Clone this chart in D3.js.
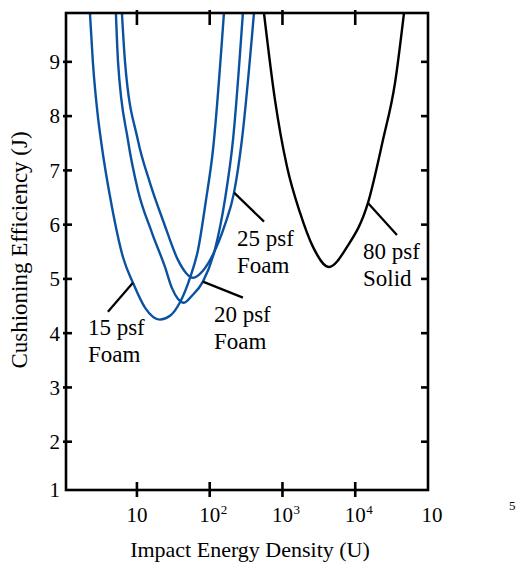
<!DOCTYPE html>
<html>
<head>
<meta charset="utf-8">
<script src="https://cdn.jsdelivr.net/npm/d3@7"></script>
<style>
  body { margin: 0; background: #fff; }
  svg text { font-family: "Liberation Serif", "Tinos", "Times New Roman", "Nimbus Roman", "DejaVu Serif", "Noto Serif", serif; fill: #000; }
</style>
</head>
<body>
<svg id="chart" width="516" height="562"></svg>
<script>
// tick values
var xTicks = [10, 100, 1000, 10000];
var xTickExp = ["", "2", "3", "4"];
var yTicks = [2, 3, 4, 5, 6, 7, 8, 9];

// curves: [impact energy density U, cushioning efficiency J]
var foam15 = [[2.26, 9.90], [2.48, 9.0], [2.91, 7.99], [3.20, 7.56], [4.53, 6.33], [6.50, 5.38],
  [8.81, 4.93], [12.9, 4.47], [20.7, 4.25], [28.5, 4.32], [39.1, 4.57], [53.6, 5.02],
  [69.0, 5.53], [88.9, 6.45], [111, 7.38], [157, 9.90]];
var foam20 = [[5.14, 9.90], [5.50, 9.0], [7.52, 7.56], [10.3, 6.64], [16.1, 5.85], [24.3, 5.22],
  [30.3, 4.83], [36.7, 4.63], [44.3, 4.56], [57.0, 4.69], [80.7, 4.95], [118, 5.54], [162, 6.46],
  [209, 7.56], [286, 9.90]];
var foam25 = [[6.22, 9.90], [6.86, 9.0], [10.3, 7.56], [15.1, 6.77], [23.5, 6.03], [36.6, 5.35],
  [47.2, 5.11], [58.9, 5.02], [80.7, 5.15], [111, 5.45], [162, 6.00], [216, 6.59], [277, 7.56],
  [406, 9.90]];
var solid80 = [[557, 9.90], [789, 8.30], [1153, 7.07], [1742, 6.22], [2626, 5.59], [4355, 5.22],
  [7709, 5.59], [14960, 6.40], [24040, 7.56], [35200, 8.61], [46770, 9.90]];

var labelText = [["15 psf", "Foam"], ["20 psf", "Foam"], ["25 psf", "Foam"], ["80 psf", "Solid"]];

var svg = d3.select("#chart");
var pLeft = 66, pRight = 428, pTop = 13, pBottom = 490;

var x = d3.scaleLog().domain([1.06, 1e5]).range([pLeft, pRight]);
var y = d3.scaleLinear().domain([1.11, 9.90]).range([pBottom, pTop]);

svg.append("defs").append("clipPath").attr("id", "plotclip")
  .append("rect").attr("x", pLeft).attr("y", pTop)
  .attr("width", pRight - pLeft).attr("height", pBottom - pTop);

// every curve is single valued in U, so a monotone-x spline keeps it smooth
var line = d3.line()
  .x(function (d) { return x(d[0]); })
  .y(function (d) { return y(d[1]); })
  .curve(d3.curveMonotoneX);

var curves = [
  { data: foam15, color: "#0a52a0" },
  { data: foam20, color: "#0a52a0" },
  { data: foam25, color: "#0a52a0" },
  { data: solid80, color: "#000" }
];

svg.append("g").attr("clip-path", "url(#plotclip)")
  .selectAll("path").data(curves).enter().append("path")
  .attr("d", function (d) { return line(d.data); })
  .attr("fill", "none")
  .attr("stroke", function (d) { return d.color; })
  .attr("stroke-width", 2.4);

// frame
svg.append("rect")
  .attr("x", pLeft).attr("y", pTop)
  .attr("width", pRight - pLeft).attr("height", pBottom - pTop)
  .attr("fill", "none").attr("stroke", "#000").attr("stroke-width", 2.6);

// x ticks, bottom and top; y ticks, left and right
var tk = svg.append("g").attr("stroke", "#000").attr("stroke-width", 2.6);
xTicks.forEach(function (t) {
  tk.append("line").attr("x1", x(t)).attr("x2", x(t)).attr("y1", pBottom - 8).attr("y2", pBottom + 7);
  tk.append("line").attr("x1", x(t)).attr("x2", x(t)).attr("y1", pTop - 3).attr("y2", pTop + 12);
});
yTicks.forEach(function (t) {
  tk.append("line").attr("x1", pLeft - 3).attr("x2", pLeft + 6).attr("y1", y(t)).attr("y2", y(t));
  tk.append("line").attr("x1", pRight - 7).attr("x2", pRight).attr("y1", y(t)).attr("y2", y(t));
});

// x tick labels
xTicks.forEach(function (t, i) {
  svg.append("text").attr("x", x(t)).attr("y", 522)
    .attr("text-anchor", "middle").style("font-size", "21px").text("10");
  if (xTickExp[i]) {
    svg.append("text").attr("x", x(t) + 11).attr("y", 514)
      .style("font-size", "13px").text(xTickExp[i]);
  }
});
// the last label, with its exponent drifted off to the right
svg.append("text").attr("x", x(1e5) + 4).attr("y", 522)
  .attr("text-anchor", "middle").style("font-size", "21px").text("10");
svg.append("text").attr("x", 509).attr("y", 510)
  .style("font-size", "13px").text("5");

// y tick labels
yTicks.forEach(function (t) {
  svg.append("text").attr("x", 60).attr("y", y(t)).attr("dy", "0.35em")
    .attr("text-anchor", "end").style("font-size", "21px").text(t);
});
svg.append("text").attr("x", 60).attr("y", pBottom).attr("dy", "0.35em")
  .attr("text-anchor", "end").style("font-size", "21px").text("1");

// axis titles
svg.append("text").attr("x", 250).attr("y", 557)
  .attr("text-anchor", "middle").style("font-size", "22px")
  .text("Impact Energy Density (U)");
svg.append("text")
  .attr("transform", "translate(27,250) rotate(-90)")
  .attr("text-anchor", "middle").style("font-size", "23px")
  .text("Cushioning Efficiency (J)");

// annotations: leader from a point on the curve, then two lines of text
function pointAt(data, u) {
  return data.filter(function (d) { return d[0] === u; })[0];
}
var notes = [
  { at: pointAt(foam15, 8.81), end: [-25, 29], txt: [-45, 52] },
  { at: pointAt(foam20, 80.7), end: [40, 16], txt: [11, 40] },
  { at: pointAt(foam25, 216), end: [30, 29], txt: [3, 53] },
  { at: pointAt(solid80, 14960), end: [29, 32], txt: [-5, 56] }
];
notes.forEach(function (n, i) {
  var px = x(n.at[0]), py = y(n.at[1]);
  svg.append("line")
    .attr("x1", px).attr("y1", py)
    .attr("x2", px + n.end[0]).attr("y2", py + n.end[1])
    .attr("stroke", "#000").attr("stroke-width", 2.2);
  var t = svg.append("text").attr("x", px + n.txt[0]).attr("y", py + n.txt[1])
    .style("font-size", "23px");
  t.append("tspan").attr("x", px + n.txt[0]).text(labelText[i][0]);
  t.append("tspan").attr("x", px + n.txt[0]).attr("dy", 27).text(labelText[i][1]);
});
</script>
</body>
</html>
